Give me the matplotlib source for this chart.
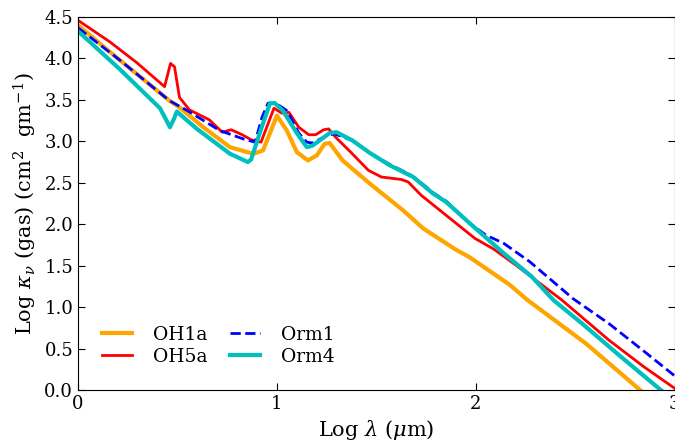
import numpy as np
import matplotlib
matplotlib.use('Agg')
import matplotlib.pyplot as plt

plt.rcParams['font.family'] = 'serif'
plt.rcParams['font.serif'] = ['DejaVu Serif']
plt.rcParams['mathtext.fontset'] = 'dejavuserif'

# log wavelength / log opacity
oh1a_x = [0, 0.21, 0.46, 0.51, 0.63, 0.764, 0.88, 0.93, 0.965, 1.0, 1.05, 1.10, 1.156, 1.20,
          1.24, 1.265, 1.33, 1.467, 1.633, 1.735, 1.895, 1.97, 2.17, 2.26, 2.554, 2.826]
oh1a_y = [4.40, 3.98, 3.49, 3.41, 3.17, 2.93, 2.85, 2.89, 3.10, 3.31, 3.13, 2.87, 2.77, 2.83,
          2.97, 2.98, 2.77, 2.49, 2.17, 1.95, 1.70, 1.60, 1.27, 1.085, 0.56, 0.0]

oh5a_x = [0, 0.16, 0.295, 0.435, 0.465, 0.485, 0.51, 0.56, 0.66, 0.725, 0.77, 0.825, 0.87,
          0.92, 0.985, 1.025, 1.06, 1.11, 1.16, 1.195, 1.235, 1.26, 1.295, 1.375, 1.46, 1.525,
          1.625, 1.66, 1.725, 1.995, 2.09, 2.205, 2.43, 2.67, 2.845, 3.0]
oh5a_y = [4.46, 4.20, 3.95, 3.66, 3.94, 3.90, 3.53, 3.38, 3.26, 3.11, 3.14, 3.08, 3.02,
          2.99, 3.40, 3.34, 3.35, 3.17, 3.08, 3.08, 3.14, 3.15, 3.05, 2.86, 2.65, 2.57,
          2.54, 2.51, 2.35, 1.83, 1.70, 1.50, 1.09, 0.60, 0.28, 0.02]

orm1_x = [0, 0.21, 0.46, 0.55, 0.713, 0.83, 0.89, 0.925, 0.955, 0.995, 1.05, 1.11, 1.15, 1.18,
          1.25, 1.29, 1.38, 1.467, 1.568, 1.668, 1.735, 1.785, 1.85, 1.97, 2.05, 2.14, 2.27,
          2.49, 2.67, 2.86, 3.0]
orm1_y = [4.37, 3.98, 3.49, 3.37, 3.13, 3.03, 2.99, 3.29, 3.46, 3.46, 3.37, 3.10, 2.99, 2.98,
          3.07, 3.09, 3.01, 2.86, 2.72, 2.60, 2.48, 2.38, 2.28, 2.01, 1.87, 1.77, 1.55,
          1.10, 0.80, 0.44, 0.17]

orm4_x = [0, 0.21, 0.412, 0.445, 0.462, 0.482, 0.497, 0.53, 0.598, 0.764, 0.854, 0.87, 0.915,
          0.965, 0.99, 1.03, 1.10, 1.15, 1.18, 1.265, 1.30, 1.38, 1.467, 1.568, 1.668, 1.685,
          1.735, 1.785, 1.85, 1.97, 2.14, 2.28, 2.39, 2.535, 2.73, 2.93]
orm4_y = [4.33, 3.87, 3.40, 3.25, 3.17, 3.27, 3.36, 3.29, 3.15, 2.85, 2.75, 2.78, 3.11,
          3.46, 3.46, 3.37, 3.10, 2.93, 2.95, 3.10, 3.11, 3.01, 2.86, 2.71, 2.59, 2.57,
          2.47, 2.37, 2.27, 2.01, 1.65, 1.37, 1.085, 0.80, 0.40, 0.0]

fig = plt.figure(figsize=(6.75, 4.43), dpi=100)
ax = fig.add_axes([0.1156, 0.1196, 0.884, 0.842])

ax.plot(oh1a_x, oh1a_y, color='orange', lw=3, label='OH1a')
ax.plot(oh5a_x, oh5a_y, color='red', lw=2, label='OH5a')
ax.plot(orm1_x, orm1_y, color='blue', lw=2, ls='--', label='Orm1')
ax.plot(orm4_x, orm4_y, color=(0, 0.75, 0.75), lw=3, label='Orm4')

ax.set_xlim(0, 3)
ax.set_ylim(0, 4.5)
ax.set_xticks([0, 1, 2, 3])
ax.set_yticks(np.arange(0, 4.51, 0.5))
ax.tick_params(direction='in', top=True, right=True, length=5, labelsize=13)
ax.set_xlabel(r'Log $\lambda$ ($\mu$m)', fontsize=15)
ax.set_ylabel(r'Log $\kappa_{\nu}$ (gas) (cm$^2$  gm$^{-1}$)', fontsize=15)

ax.legend(loc='lower left', ncol=2, frameon=False, fontsize=13.5, handlelength=1.6,
          handletextpad=1.1, columnspacing=1.2, labelspacing=0.2,
          borderaxespad=0.9, borderpad=0.4)

fig.savefig('out.png', dpi=100)
